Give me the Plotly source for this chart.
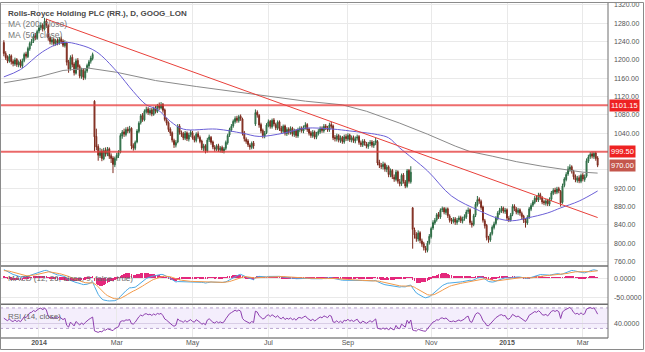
import numpy as np
import pandas as pd
import plotly.graph_objects as go

# ---------------- data ----------------
uk_holidays = ['2013-12-25', '2013-12-26', '2014-01-01', '2014-04-18', '2014-04-21',
               '2014-05-05', '2014-05-26', '2014-08-25', '2014-12-25', '2014-12-26', '2015-01-01']
dates = [d.strftime('%Y-%m-%d') for d in pd.bdate_range('2013-12-03', '2015-03-12')
         if d.strftime('%Y-%m-%d') not in uk_holidays]

open_ = [1238, 1214, 1206, 1197, 1209, 1197, 1191, 1201, 1189, 1196,
         1187, 1199, 1213, 1207, 1224, 1237, 1241, 1253, 1247, 1263,
         1271, 1276, 1267, 1285, 1275, 1249, 1239, 1245, 1235, 1243,
         1237, 1246, 1241, 1231, 1237, 1196, 1181, 1206, 1191, 1171,
         1199, 1186, 1164, 1179, 1161, 1176, 1187, 1197, 1203, 1110,
         1033, 1011, 991, 1001, 984, 1003, 994, 1006, 991, 986,
         971, 986, 991, 999, 1034, 1043, 1037, 1049, 1044, 1051,
         1013, 1007, 1021, 1044, 1063, 1079, 1069, 1087, 1093, 1084,
         1091, 1081, 1095, 1087, 1101, 1095, 1103, 1091, 1069, 1063,
         1049, 1041, 1024, 1014, 1021, 1056, 1041, 1039, 1029, 1041,
         1027, 1037, 1041, 1031, 1024, 1039, 1031, 1023, 1007, 1013,
         1001, 1026, 1031, 1021, 1009, 1006, 1013, 1003, 1009, 1001,
         1007, 1019, 1036, 1047, 1056, 1065, 1073, 1067, 1077, 1071,
         1041, 1027, 1023, 1014, 1009, 1019, 1060, 1086, 1079, 1059,
         1046, 1034, 1041, 1057, 1066, 1054, 1069, 1059, 1051, 1065,
         1051, 1044, 1056, 1039, 1049, 1041, 1051, 1037, 1046, 1034,
         1047, 1051, 1045, 1053, 1059, 1049, 1041, 1034, 1043, 1031,
         1039, 1043, 1051, 1045, 1056, 1051, 1047, 1059, 1056, 1031,
         1027, 1035, 1024, 1031, 1021, 1033, 1027, 1036, 1025, 1031,
         1023, 1029, 1033, 1019, 1014, 1023, 1017, 1011, 1017, 1021,
         1013, 1019, 1022, 976, 969, 967, 973, 961, 967, 949,
         959, 944, 939, 956, 934, 929, 949, 934, 924, 959,
         934, 877, 829, 819, 809, 823, 805, 799, 789, 784,
         801, 814, 833, 844, 851, 863, 857, 873, 876, 867,
         875, 859, 851, 847, 853, 845, 851, 856, 848, 854,
         857, 869, 873, 844, 841, 861, 884, 896, 891, 879,
         849, 839, 811, 807, 821, 834, 843, 854, 867, 871,
         877, 869, 873, 854, 851, 863, 881, 875, 867, 873,
         865, 859, 849, 844, 857, 874, 883, 889, 899, 894,
         906, 899, 891, 887, 893, 885, 896, 909, 916, 911,
         919, 913, 889, 926, 939, 951, 961, 967, 957, 946,
         937, 943, 935, 949, 939, 946, 979, 989, 995, 989,
         997, 986]

high = [1243, 1219, 1210, 1213, 1212, 1201, 1205, 1204, 1199, 1201,
        1203, 1216, 1218, 1229, 1240, 1246, 1257, 1259, 1266, 1276,
        1282, 1280, 1292, 1290, 1278, 1252, 1249, 1248, 1246, 1247,
        1250, 1251, 1245, 1243, 1240, 1200, 1210, 1212, 1195, 1203,
        1204, 1190, 1183, 1182, 1180, 1192, 1200, 1209, 1216, 1112,
        1050, 1016, 1008, 1006, 1008, 1009, 1010, 1009, 996, 990,
        989, 997, 1003, 1040, 1047, 1050, 1053, 1054, 1056, 1053,
        1018, 1024, 1049, 1066, 1082, 1084, 1092, 1098, 1097, 1095,
        1095, 1098, 1100, 1104, 1107, 1108, 1106, 1094, 1074, 1066,
        1053, 1044, 1028, 1025, 1060, 1060, 1046, 1043, 1045, 1044,
        1041, 1047, 1045, 1035, 1042, 1044, 1035, 1026, 1017, 1016,
        1030, 1037, 1034, 1024, 1014, 1016, 1017, 1012, 1013, 1010,
        1024, 1039, 1052, 1060, 1070, 1077, 1078, 1080, 1081, 1074,
        1045, 1031, 1027, 1018, 1022, 1023, 1092, 1090, 1082, 1063,
        1050, 1045, 1062, 1070, 1069, 1072, 1073, 1063, 1068, 1068,
        1056, 1059, 1059, 1053, 1053, 1055, 1054, 1050, 1049, 1052,
        1055, 1055, 1057, 1064, 1062, 1052, 1045, 1047, 1046, 1043,
        1049, 1055, 1055, 1060, 1060, 1056, 1063, 1065, 1059, 1036,
        1039, 1038, 1035, 1034, 1037, 1038, 1040, 1039, 1035, 1035,
        1033, 1037, 1036, 1024, 1027, 1027, 1021, 1021, 1025, 1025,
        1023, 1030, 1025, 982, 975, 978, 976, 971, 970, 963,
        962, 950, 960, 959, 940, 952, 953, 938, 962, 962,
        968, 879, 834, 824, 828, 826, 810, 803, 794, 805,
        820, 836, 850, 855, 866, 868, 876, 880, 879, 878,
        878, 863, 855, 857, 857, 855, 860, 860, 858, 863,
        873, 878, 876, 849, 864, 890, 903, 900, 895, 882,
        853, 842, 816, 824, 839, 847, 859, 870, 877, 881,
        880, 877, 876, 859, 866, 885, 885, 879, 877, 876,
        869, 862, 854, 861, 879, 887, 894, 903, 904, 910,
        910, 903, 895, 897, 897, 900, 914, 920, 921, 923,
        923, 916, 930, 944, 955, 968, 972, 970, 960, 950,
        947, 948, 952, 953, 950, 985, 993, 999, 1000, 1000,
        1000, 990]

low = [1208, 1200, 1193, 1194, 1190, 1186, 1187, 1185, 1184, 1183,
       1182, 1195, 1203, 1204, 1220, 1231, 1237, 1243, 1244, 1258,
       1265, 1262, 1264, 1270, 1242, 1234, 1233, 1230, 1231, 1232,
       1233, 1235, 1228, 1227, 1188, 1172, 1177, 1184, 1166, 1168,
       1178, 1160, 1159, 1156, 1157, 1172, 1182, 1192, 1199, 1001,
       1003, 980, 986, 979, 981, 989, 990, 984, 975, 953,
       966, 980, 986, 996, 1028, 1032, 1033, 1040, 1040, 1005,
       1002, 1003, 1018, 1040, 1059, 1065, 1066, 1083, 1080, 1079,
       1077, 1078, 1083, 1084, 1091, 1092, 1085, 1066, 1057, 1043,
       1034, 1020, 1008, 1009, 1018, 1037, 1032, 1025, 1025, 1023,
       1022, 1032, 1026, 1020, 1020, 1028, 1018, 1003, 1001, 996,
       998, 1021, 1015, 1005, 1000, 1001, 999, 998, 997, 996,
       1003, 1015, 1032, 1043, 1052, 1061, 1063, 1063, 1067, 1035,
       1022, 1017, 1010, 1004, 1005, 1006, 1056, 1074, 1052, 1040,
       1029, 1029, 1038, 1053, 1050, 1050, 1055, 1047, 1047, 1045,
       1040, 1040, 1035, 1034, 1037, 1037, 1033, 1032, 1030, 1030,
       1042, 1041, 1040, 1048, 1043, 1035, 1030, 1030, 1027, 1027,
       1035, 1039, 1041, 1041, 1047, 1043, 1043, 1050, 1025, 1022,
       1022, 1020, 1019, 1017, 1017, 1023, 1023, 1021, 1020, 1019,
       1018, 1024, 1015, 1010, 1010, 1013, 1007, 1006, 1012, 1009,
       1008, 1014, 970, 964, 962, 961, 956, 955, 944, 944,
       940, 934, 935, 930, 924, 925, 930, 920, 921, 930,
       930, 788, 810, 803, 804, 800, 792, 784, 779, 780,
       797, 810, 829, 840, 847, 853, 853, 868, 863, 862,
       855, 845, 842, 843, 840, 840, 846, 844, 843, 849,
       853, 864, 840, 834, 837, 857, 880, 886, 873, 845,
       832, 806, 801, 803, 817, 830, 839, 850, 862, 866,
       865, 864, 850, 846, 847, 859, 870, 863, 862, 860,
       852, 844, 834, 840, 853, 870, 879, 885, 890, 890,
       895, 885, 883, 882, 881, 881, 892, 905, 907, 907,
       909, 880, 886, 922, 935, 947, 956, 952, 939, 933,
       932, 931, 931, 935, 934, 943, 975, 984, 985, 984,
       980, 966]

close = [1214, 1205, 1198, 1208, 1196, 1192, 1200, 1190, 1195, 1188,
         1198, 1212, 1208, 1225, 1236, 1240, 1252, 1248, 1262, 1270,
         1275, 1268, 1284, 1276, 1248, 1240, 1244, 1236, 1242, 1238,
         1245, 1240, 1232, 1238, 1195, 1180, 1205, 1190, 1172, 1198,
         1185, 1165, 1178, 1162, 1175, 1188, 1196, 1204, 1212, 1032,
         1010, 992, 1000, 985, 1002, 995, 1005, 990, 985, 972,
         985, 992, 998, 1035, 1042, 1038, 1048, 1045, 1050, 1012,
         1008, 1020, 1045, 1062, 1078, 1070, 1088, 1092, 1085, 1090,
         1082, 1094, 1088, 1100, 1096, 1102, 1090, 1070, 1062, 1048,
         1040, 1025, 1015, 1020, 1055, 1042, 1038, 1030, 1040, 1028,
         1036, 1042, 1030, 1025, 1038, 1032, 1022, 1008, 1012, 1002,
         1025, 1032, 1020, 1010, 1005, 1012, 1004, 1008, 1002, 1006,
         1020, 1035, 1048, 1055, 1066, 1072, 1068, 1076, 1072, 1040,
         1028, 1022, 1015, 1010, 1018, 1012, 1085, 1080, 1058, 1045,
         1035, 1040, 1058, 1065, 1055, 1068, 1060, 1052, 1064, 1050,
         1045, 1055, 1040, 1048, 1042, 1050, 1038, 1045, 1035, 1048,
         1050, 1046, 1052, 1058, 1048, 1040, 1035, 1042, 1032, 1038,
         1044, 1050, 1046, 1055, 1052, 1048, 1058, 1055, 1030, 1028,
         1034, 1025, 1030, 1022, 1032, 1028, 1035, 1026, 1030, 1024,
         1028, 1032, 1020, 1015, 1022, 1018, 1012, 1016, 1020, 1014,
         1018, 1024, 975, 970, 968, 972, 962, 966, 950, 958,
         945, 940, 955, 935, 930, 948, 935, 925, 958, 935,
         955, 830, 818, 810, 822, 806, 798, 790, 785, 800,
         815, 832, 845, 850, 862, 858, 872, 875, 868, 874,
         860, 850, 848, 852, 846, 850, 855, 849, 853, 858,
         868, 872, 845, 840, 860, 885, 895, 892, 878, 850,
         838, 812, 808, 820, 835, 842, 855, 866, 872, 876,
         870, 872, 855, 852, 862, 880, 876, 868, 872, 866,
         858, 850, 845, 856, 875, 882, 890, 898, 895, 905,
         900, 890, 888, 892, 886, 895, 910, 915, 912, 918,
         914, 888, 925, 940, 950, 962, 966, 958, 945, 938,
         942, 936, 948, 940, 945, 980, 988, 994, 990, 996,
         985, 970]

# moving averages (bar number counted from 2014-01-02 = 0)
ma200_bar = [-19, 0, 13, 27, 42, 63, 85, 101, 125, 144, 164, 177, 195, 210, 225, 233, 245, 258, 272, 285, 294, 302]
ma200_val = [1150, 1163, 1177, 1182, 1173, 1155, 1142, 1133, 1120, 1110, 1102, 1088, 1062, 1038, 1012, 1000, 990, 978, 968, 960, 955, 953]
ma50_bar = [-19, -10, 2, 13, 22, 31, 42, 51, 58, 64, 71, 78, 96, 110, 119, 132, 144, 159, 168, 183, 189, 195, 210, 223, 238, 249, 256, 264, 275, 282, 292, 302]
ma50_val = [1163, 1179, 1218, 1238, 1233, 1218, 1175, 1131, 1102, 1092, 1066, 1049, 1049, 1040, 1033, 1040, 1051, 1049, 1045, 1037, 1030, 1008, 958, 903, 871, 853, 849, 855, 866, 877, 892, 914]

trend_bar = [4, 302]
trend_val = [1289, 856]
levels = [1101.15, 999.50]
level_labels = ['1101.15', '999.50']
last_label = '970.00'

# tick labels hidden under the price badges are left blank (their grid lines stay)
price_ticks = [1320, 1280, 1240, 1200, 1160, 1120, 1080, 1040, 1000, 960, 920, 880, 840, 800, 760]
price_tick_text = ['1320.00', '1280.00', '1240.00', '1200.00', '1160.00', '1120.00', '1080.00', '1040.00',
                   '', '', '920.00', '880.00', '840.00', '800.00', '760.00']
macd_ticks = [0, -50]
macd_tick_text = ['0.0000', '-50.0000']
rsi_ticks = [40]
rsi_tick_text = ['40.0000']
x_tick_dates = ['2014-01-02', '2014-03-03', '2014-05-01', '2014-07-01', '2014-09-01', '2014-11-03', '2015-01-02', '2015-03-02']
x_tick_text = ['<b>2014</b>', 'Mar', 'May', 'Jul', 'Sep', 'Nov', '<b>2015</b>', 'Mar']

# indicator warm-up state (history before the first visible bar)
EMA12_SEED, EMA26_SEED, SIGNAL_SEED = 1222.0, 1196.0, 20.0
RSI_GAIN_SEED, RSI_LOSS_SEED = 6.0, 6.0

# ---------------- indicators ----------------
c = np.array(close, dtype=float)


def ema(series, n, seed):
    a = 2.0 / (n + 1)
    e = seed
    out = []
    for v in series:
        e = e + a * (v - e)
        out.append(e)
    return np.array(out)


macd = ema(c, 12, EMA12_SEED) - ema(c, 26, EMA26_SEED)
signal = ema(macd, 9, SIGNAL_SEED)
hist = macd - signal

ag, al = RSI_GAIN_SEED, RSI_LOSS_SEED
rsi = []
prev = c[0]
for v in c:
    d = v - prev
    prev = v
    ag = (ag * 13 + max(d, 0)) / 14
    al = (al * 13 + max(-d, 0)) / 14
    rsi.append(100 - 100 / (1 + ag / al))

OFF = 19  # position of 2014-01-02 in dates
ma200_x = [dates[b + OFF] for b in ma200_bar]
ma50_x = [dates[b + OFF] for b in ma50_bar]
trend_x = [dates[b + OFF] for b in trend_bar]

# ---------------- layout helpers ----------------
W, H = 645, 352
XR = 608 / W


def py(px):
    return 1 - px / H


fig = go.Figure()

fig.add_trace(go.Candlestick(
    x=dates, open=open_, high=high, low=low, close=close,
    increasing=dict(line=dict(color='#2c6a43', width=1), fillcolor='#4f9468'),
    decreasing=dict(line=dict(color='#7c2a1d', width=1), fillcolor='#a9483a'),
    whiskerwidth=0, xaxis='x', yaxis='y', showlegend=False, hoverinfo='skip'))
fig.add_trace(go.Scatter(x=ma200_x, y=ma200_val, mode='lines', line=dict(color='#8a8a8a', width=1),
                         xaxis='x', yaxis='y', showlegend=False, hoverinfo='skip'))
fig.add_trace(go.Scatter(x=ma50_x, y=ma50_val, mode='lines', line=dict(color='#6b5fd6', width=1, shape='spline'),
                         xaxis='x', yaxis='y', showlegend=False, hoverinfo='skip'))
fig.add_trace(go.Scatter(x=trend_x, y=trend_val, mode='lines', line=dict(color='#e8403a', width=1),
                         xaxis='x', yaxis='y', showlegend=False, hoverinfo='skip'))

fig.add_trace(go.Bar(x=dates, y=hist, marker=dict(color='#e4287c', line=dict(width=0)), width=0.35,
                     xaxis='x2', yaxis='y2', showlegend=False, hoverinfo='skip'))
fig.add_trace(go.Scatter(x=dates, y=macd, mode='lines', line=dict(color='#4aa8e4', width=1),
                         xaxis='x2', yaxis='y2', showlegend=False, hoverinfo='skip'))
fig.add_trace(go.Scatter(x=dates, y=signal, mode='lines', line=dict(color='#f29a4a', width=1),
                         xaxis='x2', yaxis='y2', showlegend=False, hoverinfo='skip'))

fig.add_trace(go.Scatter(x=dates, y=rsi, mode='lines', line=dict(color='#8d3fae', width=1),
                         xaxis='x3', yaxis='y3', showlegend=False, hoverinfo='skip'))

xr = [-2.08, 326.6]
grid = '#e9e9e9'
tickfont = dict(family='Liberation Sans, Arial, sans-serif', size=7, color='#555')
xcommon = dict(type='category', range=xr, domain=[0, XR], tickvals=x_tick_dates, ticktext=x_tick_text,
               showgrid=True, gridcolor=grid, gridwidth=1, zeroline=False, showline=False, ticks='',
               fixedrange=True)

fig.update_layout(
    width=W, height=H, margin=dict(l=0, r=0, t=0, b=0),
    paper_bgcolor='white', plot_bgcolor='white', showlegend=False, bargap=0,
    xaxis=dict(**xcommon, anchor='y', showticklabels=False, rangeslider=dict(visible=False)),
    xaxis2=dict(**xcommon, anchor='y2', matches='x', showticklabels=False),
    xaxis3=dict(**xcommon, anchor='y3', matches='x', showticklabels=True, tickfont=tickfont),
    yaxis=dict(domain=[py(265), py(1)], range=[751.3, 1324.3], side='right', anchor='x',
               tickvals=price_ticks, ticktext=price_tick_text, tickfont=tickfont, ticklabeloverflow='allow',
               showgrid=True, gridcolor=grid, zeroline=False, ticks='', ticklabelstandoff=5),
    yaxis2=dict(domain=[py(303), py(267)], range=[-65.8, 28.9], side='right', anchor='x2',
                tickvals=macd_ticks, ticktext=macd_tick_text, tickfont=tickfont,
                showgrid=True, gridcolor=grid, zeroline=False, ticks='', ticklabelstandoff=5),
    yaxis3=dict(domain=[py(337), py(305)], range=[13.1, 75.2], side='right', anchor='x3',
                tickvals=rsi_ticks, ticktext=rsi_tick_text, tickfont=tickfont,
                showgrid=True, gridcolor='#d8cde6', zeroline=False, ticks='', ticklabelstandoff=5),
)

shapes = []
# RSI band
shapes.append(dict(type='rect', xref='paper', yref='y3', x0=0, x1=XR, y0=30, y1=70,
                   fillcolor='rgba(170,120,230,0.13)', line=dict(width=0), layer='below'))
for lv in (30, 70):
    shapes.append(dict(type='line', xref='paper', yref='y3', x0=0, x1=XR, y0=lv, y1=lv,
                       line=dict(color='#b9a6cf', width=1, dash='dot'), layer='below'))
# horizontal levels
for lv in levels:
    shapes.append(dict(type='line', xref='paper', yref='y', x0=0, x1=XR, y0=lv, y1=lv,
                       line=dict(color='rgba(232,60,60,0.75)', width=2)))
# pane borders
sep = '#6f6f6f'
for ypx in (265.5, 304.0):
    shapes.append(dict(type='line', xref='paper', yref='paper', x0=0, x1=XR, y0=py(ypx), y1=py(ypx),
                       line=dict(color=sep, width=1.5)))
shapes.append(dict(type='line', xref='paper', yref='paper', x0=0, x1=XR, y0=py(337.8), y1=py(337.8),
                   line=dict(color='#8a8a8a', width=1.5)))
shapes.append(dict(type='line', xref='paper', yref='paper', x0=XR, x1=XR, y0=py(338), y1=1,
                   line=dict(color=sep, width=1)))
# outer frame
shapes.append(dict(type='rect', xref='paper', yref='paper', x0=0.5 / W, x1=643.5 / W, y0=py(349.5), y1=py(0.5),
                   line=dict(color='#8a8a8a', width=1)))
fig.update_layout(shapes=shapes)

font_lbl = 'Liberation Sans, Arial, sans-serif'
ann = []
ann.append(dict(text='<b>Rolls-Royce Holding PLC (RR.), D, GOOG_LON</b>', x=6 / W, y=py(11.5), xref='paper',
                yref='paper', xanchor='left', yanchor='middle', showarrow=False,
                font=dict(family=font_lbl, size=8, color='#4a4a4a')))
ann.append(dict(text='MA (200, close)', x=6 / W, y=py(22.5), xref='paper', yref='paper', xanchor='left',
                yanchor='middle', showarrow=False, font=dict(family=font_lbl, size=8.5, color='#777')))
ann.append(dict(text='MA (50, close)', x=6 / W, y=py(33), xref='paper', yref='paper', xanchor='left',
                yanchor='middle', showarrow=False, font=dict(family=font_lbl, size=8.5, color='#777')))
ann.append(dict(text='MACD (12, 26, close, 9, false, true)', x=6 / W, y=py(278.5), xref='paper', yref='paper',
                xanchor='left', yanchor='middle', showarrow=False, font=dict(family=font_lbl, size=8, color='#666')))
ann.append(dict(text='RSI (14, close)', x=6 / W, y=py(316.5), xref='paper', yref='paper', xanchor='left',
                yanchor='middle', showarrow=False, font=dict(family=font_lbl, size=8, color='#666')))
for lv, lt in zip(levels, level_labels):
    ann.append(dict(text=lt, x=609 / W, y=lv, xref='paper', yref='y', xanchor='left', yanchor='middle',
                    showarrow=False, bgcolor='#ee2222', borderpad=1,
                    font=dict(family=font_lbl, size=7.5, color='white')))
ann.append(dict(text=last_label, x=609 / W, y=close[-1], xref='paper', yref='y', xanchor='left', yanchor='middle',
                showarrow=False, bgcolor='#c4564c', borderpad=1,
                font=dict(family=font_lbl, size=7.5, color='white')))
fig.update_layout(annotations=ann)

fig.write_html('out.html')
